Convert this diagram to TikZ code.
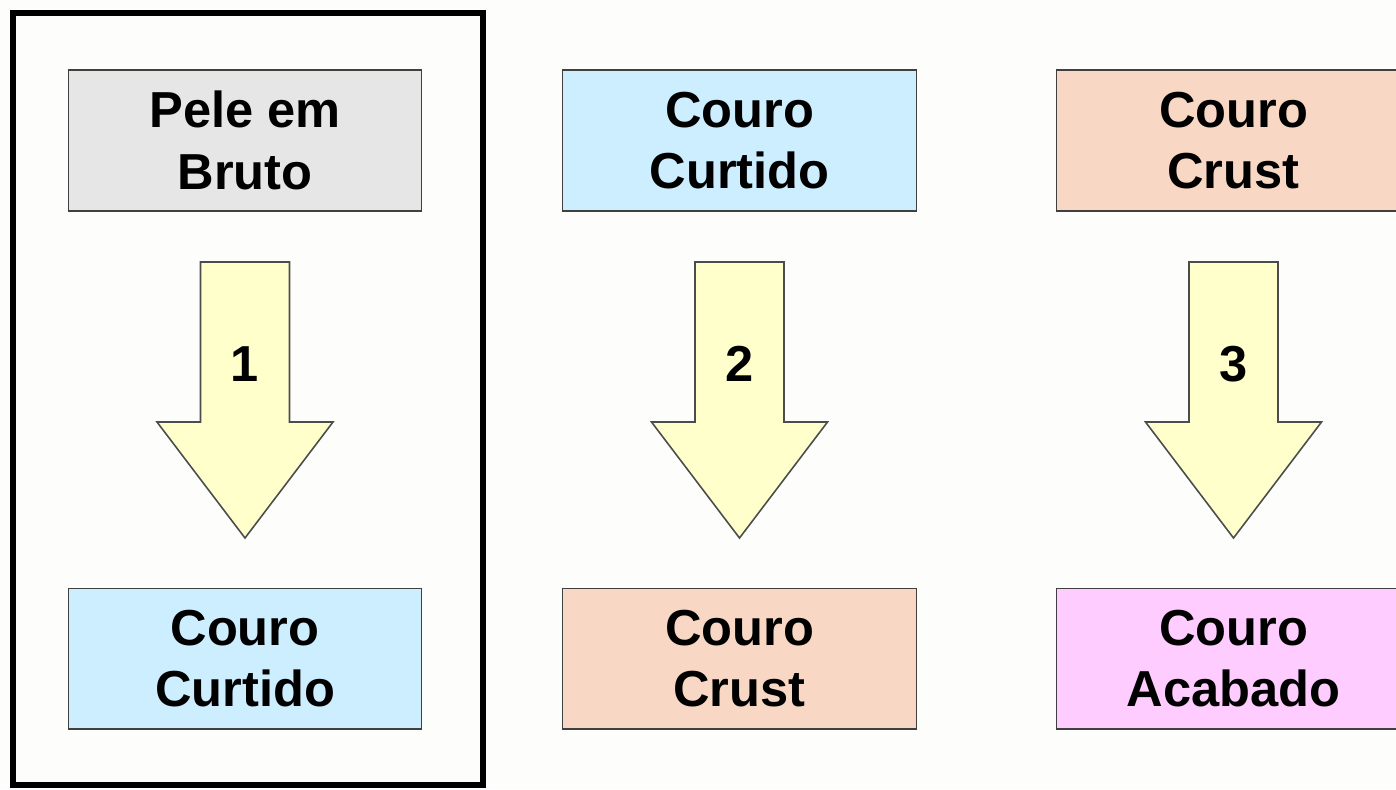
\documentclass[tikz,border=0pt]{standalone}
\usepackage{fontspec}
\setmainfont{Liberation Sans}
\usetikzlibrary{positioning}
\definecolor{paper}{HTML}{FDFDFB}
\definecolor{rawGray}{HTML}{E6E6E6}
\definecolor{tanBlue}{HTML}{CCEEFF}
\definecolor{crustPeach}{HTML}{F8D8C4}
\definecolor{finishPink}{HTML}{FFCCFF}
\definecolor{arrowYellow}{HTML}{FFFFCC}
\tikzset{%
    base/.style = {
        rectangle, draw=black!75, line width=0.6pt, minimum width=7.08cm,
        minimum height=2.82cm, inner sep=0pt, outer sep=0pt, align=center,
        font=\fontsize{28.8}{35}\selectfont\bfseries
    },
    raw/.style = {base, fill=rawGray},
    tanned/.style = {base, fill=tanBlue},
    crust/.style = {base, fill=crustPeach},
    finished/.style = {base, fill=finishPink},
    stepArrow/.style = {draw=black!70, line width=0.9pt, fill=arrowYellow, line join=miter},
    stepNum/.style = {font=\fontsize{28.8}{35}\selectfont\bfseries},
}

\begin{document}
\begin{tikzpicture}[x=0.02cm, y=-0.02cm]
        \fill[paper] (0,0) rectangle (1396,789);
        \useasboundingbox (0,0) rectangle (1396,789);
        \clip (0,0) rectangle (1396,789);

        % Frame round the first step
        \draw[line width=3.5pt] (13,13) rectangle (483,785);

        % Nodes position
        \node (rawHide)    [raw]      at (245,140.5)  {Pele em\\Bruto};
        \node (tannedA)    [tanned]   at (245,658.5)  {Couro\\Curtido};
        \node (tannedB)    [tanned]   at (739.5,140.5) {Couro\\Curtido};
        \node (crustA)     [crust]    at (739.5,658.5) {Couro\\Crust};
        \node (crustB)     [crust]    at (1233.5,140.5) {Couro\\Crust};
        \node (finishedC)  [finished] at (1233.5,658.5) {Couro\\Acabado};

        % Step arrows
        \draw[stepArrow] (200.5,262) -- (289.5,262) -- (289.5,422) -- (333,422)
            -- (245,538) -- (157,422) -- (200.5,422) -- cycle;
        \draw[stepArrow] (695,262) -- (784,262) -- (784,422) -- (827.5,422)
            -- (739.5,538) -- (651.5,422) -- (695,422) -- cycle;
        \draw[stepArrow] (1189,262) -- (1278,262) -- (1278,422) -- (1321.5,422)
            -- (1233.5,538) -- (1145.5,422) -- (1189,422) -- cycle;

        \node (stepOne)   [stepNum] at (245,364)    {1};
        \node (stepTwo)   [stepNum] at (739.5,364)  {2};
        \node (stepThree) [stepNum] at (1233.5,364) {3};
    \end{tikzpicture}
\end{document}
